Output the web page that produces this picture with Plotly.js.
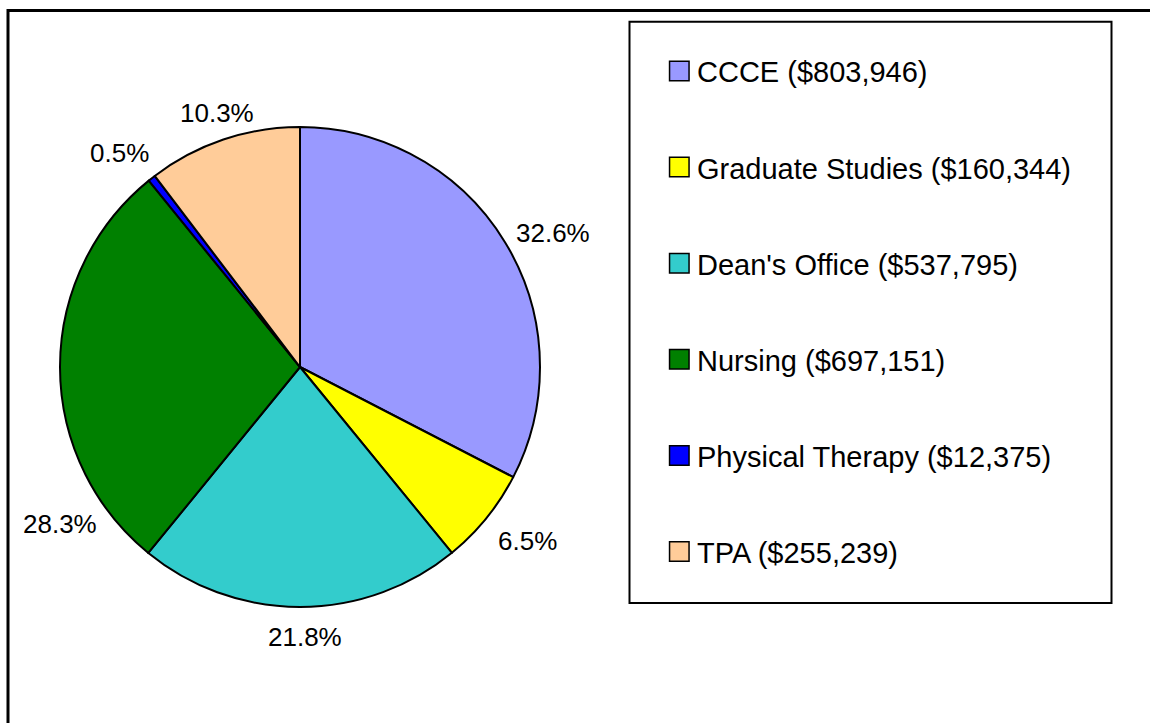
<!DOCTYPE html>
<html>
<head>
<meta charset="utf-8">
<script src="https://cdn.plot.ly/plotly-3.0.1.min.js"></script>
<style>
  html, body { margin: 0; padding: 0; background: #ffffff; }
  #chart { width: 1150px; height: 723px; }
</style>
</head>
<body>
<div id="chart"></div>
<script>
// Data
const categories = ["CCCE", "Graduate Studies", "Dean's Office", "Nursing", "Physical Therapy", "TPA"];
const amounts = [803946, 160344, 537795, 697151, 12375, 255239];
const sliceColors = ["#9999FF", "#FFFF00", "#33CCCC", "#008000", "#0000FF", "#FFCC99"];

const W = 1150, H = 723;
const px = x => x / W;
const py = y => 1 - y / H;
const FONT = "Liberation Sans, Arial, sans-serif";

const total = amounts.reduce((a, b) => a + b, 0);
const percentLabels = amounts.map(v => (100 * v / total).toFixed(1) + "%");
const legendLabels = categories.map((c, i) => c + " ($" + amounts[i].toLocaleString("en-US") + ")");

const pie = {
  type: "pie",
  labels: categories,
  values: amounts,
  sort: false,
  direction: "clockwise",
  rotation: 0,
  marker: { colors: sliceColors, line: { color: "#000000", width: 2 } },
  textinfo: "none",
  hoverinfo: "skip",
  showlegend: false,
  domain: { x: [px(60), px(540)], y: [py(607), py(127)] }
};

// Label placement (pixel centres, layout only), in category order
const labelPos = [[553, 232], [527.5, 540], [304.5, 636], [60, 523], [119.5, 152], [217, 112]];

const shapes = [
  // outer chart border
  { type: "rect", xref: "paper", yref: "paper", x0: px(8), x1: 1.02, y0: -0.05, y1: py(10.5),
    line: { color: "#000000", width: 3 }, fillcolor: "rgba(0,0,0,0)", layer: "above" },
  // legend box
  { type: "rect", xref: "paper", yref: "paper", x0: px(629.5), x1: px(1111.5), y0: py(603), y1: py(21.7),
    line: { color: "#000000", width: 2 }, fillcolor: "rgba(0,0,0,0)", layer: "above" }
];
const annotations = [];

percentLabels.forEach((t, i) => {
  annotations.push({
    xref: "paper", yref: "paper", x: px(labelPos[i][0]), y: py(labelPos[i][1] + 1),
    xanchor: "center", yanchor: "middle", showarrow: false, text: t,
    font: { family: FONT, size: 26, color: "#000000" }
  });
});

const legTop = 71, legStep = 96.1, sq = 19.5, sqX = 679.3;
categories.forEach((c, i) => {
  const cy = legTop + legStep * i;
  shapes.push({
    type: "rect", xref: "paper", yref: "paper",
    x0: px(sqX - sq / 2), x1: px(sqX + sq / 2), y0: py(cy + sq / 2), y1: py(cy - sq / 2),
    fillcolor: sliceColors[i], line: { color: "#000000", width: 1.5 }, layer: "above"
  });
  annotations.push({
    xref: "paper", yref: "paper", x: px(695), y: py(cy + 1.5),
    xanchor: "left", yanchor: "middle", showarrow: false,
    text: legendLabels[i],
    font: { family: FONT, size: 29, color: "#000000" }
  });
});

const layout = {
  width: W, height: H,
  margin: { l: 0, r: 0, t: 0, b: 0 },
  paper_bgcolor: "#ffffff",
  plot_bgcolor: "#ffffff",
  showlegend: false,
  shapes: shapes,
  annotations: annotations,
  font: { family: FONT, color: "#000000" }
};

Plotly.newPlot("chart", [pie], layout, { staticPlot: true, displayModeBar: false });
</script>
</body>
</html>
